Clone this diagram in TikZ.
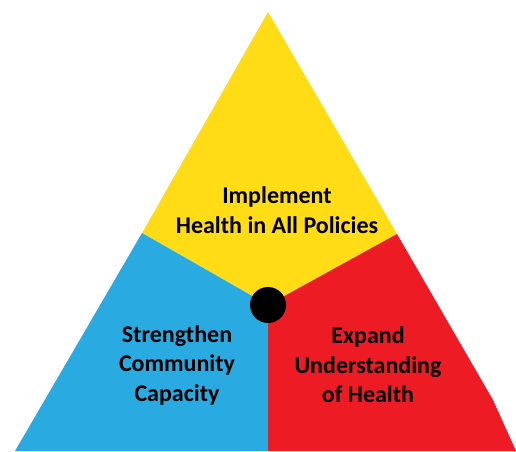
\documentclass[tikz,border=0pt]{standalone}
\usepackage{fontspec}
\setmainfont{Carlito}
\definecolor{tyellow}{RGB}{255,220,22}
\definecolor{tblue}{RGB}{41,171,226}
\definecolor{tred}{RGB}{237,28,36}
\begin{document}
\begin{tikzpicture}[x=1pt,y=-1pt,
  lbl/.style={align=center,font=\fontsize{24}{29.5}\selectfont\bfseries,text=black,inner sep=0pt}]
\useasboundingbox (0,0) rectangle (516,451);
\coordinate (apex) at (268,12);
\coordinate (lj) at (142,233);
\coordinate (rj) at (397,234);
\coordinate (c) at (268,305);
\coordinate (bm) at (268,451);
\coordinate (bl) at (15,451);
\coordinate (br) at (516,451);
\coordinate (rk) at (493,400);
\fill[tyellow] (apex) -- (rj) -- (c) -- (lj) -- cycle;
\fill[tblue] (lj) -- (c) -- (bm) -- (bl) -- cycle;
\fill[tred] (rj) -- (c) -- (bm) -- (br) -- (rk) -- cycle;
\fill[black] (c) circle (18);
\node[lbl] (top) at (277,210) {Implement\\Health in All Policies};
\node[lbl] (left) at (177,365) {Strengthen\\Community\\Capacity};
\node[lbl] (right) at (368,365) {Expand\\Understanding\\of Health};
\end{tikzpicture}
\end{document}
